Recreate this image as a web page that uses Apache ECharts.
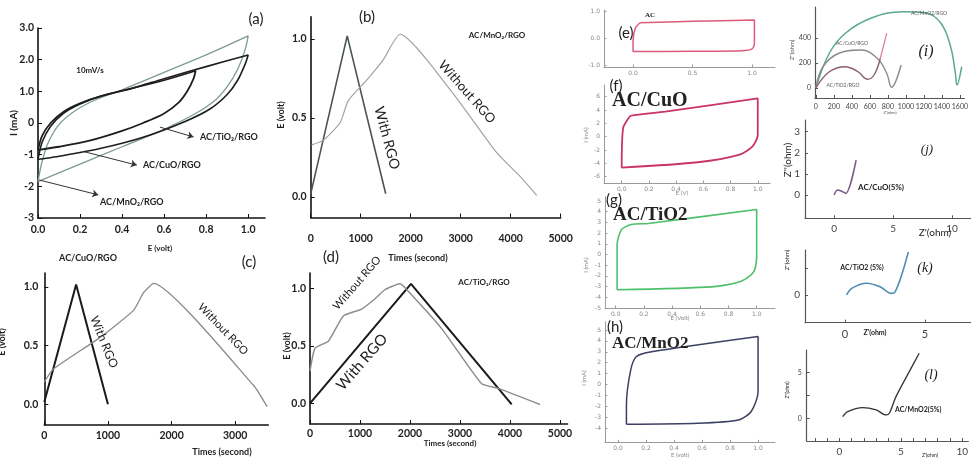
<!DOCTYPE html>
<html><head><meta charset="utf-8">
<script src="https://cdn.jsdelivr.net/npm/echarts@6/dist/echarts.min.js"></script>
<style>html,body{margin:0;padding:0;background:#fff}#c{width:971px;height:459px}</style>
</head><body><div id="c"></div>
<script>
// ---------- data ----------
// (a) CV loops, [E (volt), I (mA)]
const aMnO2 = [[0,-1.85],[0.02,-1.2],[0.05,-0.6],[0.1,-0.05],[0.18,0.4],[0.28,0.75],[0.4,1.05],[0.6,1.6],[0.8,2.15],[1.0,2.75],[0.985,2.3],[0.95,1.7],[0.9,1.15],[0.84,0.7],[0.75,0.3],[0.6,-0.2],[0.4,-0.75],[0.2,-1.3],[0,-1.85]];
const aTiO2 = [[0,-1.15],[0.02,-0.6],[0.06,-0.1],[0.12,0.3],[0.2,0.6],[0.3,0.85],[0.45,1.1],[0.6,1.4],[0.8,1.78],[1.0,2.15],[0.985,1.85],[0.95,1.35],[0.9,0.9],[0.82,0.45],[0.7,0.05],[0.5,-0.45],[0.3,-0.8],[0.1,-1.05],[0,-1.15]];
const aCuO = [[0,-0.85],[0.02,-0.4],[0.06,0.0],[0.12,0.35],[0.2,0.62],[0.3,0.85],[0.45,1.1],[0.6,1.35],[0.75,1.65],[0.74,1.4],[0.71,1.0],[0.67,0.65],[0.6,0.3],[0.5,0.0],[0.4,-0.25],[0.25,-0.55],[0.1,-0.75],[0,-0.85]];
// (b)-(d) charge/discharge, [time (s), E (volt)]
const bWith = [[0,0.02],[730,1.02],[1500,0.02]];
const bWithout = [[20,0.33],[253,0.36],[587,0.47],[753,0.61],[1120,0.74],[1453,0.87],[1787,1.03],[2787,0.68],[3720,0.28],[4187,0.13],[4520,0.01]];
const cWith = [[0,0.02],[500,1.02],[1000,0]];
const cWithout = [[0,0.19],[142,0.30],[877,0.57],[1402,0.80],[1559,0.95],[1717,1.03],[3291,0.16],[3501,-0.02]];
const dWith = [[0,0],[2020,1.04],[4034,-0.01]];
const dWithout = [[0,0.28],[100,0.48],[367,0.54],[667,0.76],[1033,0.82],[1300,0.91],[1500,0.99],[1800,1.04],[1933,0.99],[2633,0.65],[3433,0.17],[3767,0.13],[4600,-0.01]];
// (e)-(h) CV loops
const eAC = [[0.06,0.59],[0.5,0.64],[1.02,0.69],[1.02,-0.2],[1.0,-0.38],[0.92,-0.45],[0.5,-0.47],[0.0,-0.48],[0.0,-0.1],[0.02,0.4],[0.06,0.59]];
const fCuO = [[0,-4.65],[0.01,1.26],[0.05,2.76],[0.07,3.15],[0.32,3.75],[1.0,5.76],[1.0,0.25],[0.96,-1.5],[0.86,-2.74],[0.56,-3.84],[0,-4.65]];
const gTiO2 = [[0.01,-3.3],[0.01,0.9],[0.04,2.3],[0.11,2.8],[0.23,2.9],[1.0,4.2],[1.0,0.1],[0.98,-1.6],[0.89,-2.5],[0.70,-3.0],[0.01,-3.3]];
const hMnO2 = [[0.06,-3.65],[0.06,-1.9],[0.09,1.3],[0.13,2.55],[0.24,3.0],[1.0,4.4],[1.0,-0.66],[0.95,-2.5],[0.86,-3.26],[0.57,-3.56],[0.06,-3.65]];
// (i)-(l) Nyquist, [Z' , Z'']
const iMnO2 = [[0,0],[149,278],[327,438],[610,558],[965,610],[1213,602],[1390,518],[1497,330],[1550,118],[1567,24],[1620,170]];
const iCuO = [[0,0],[78,170],[255,278],[503,304],[681,238],[787,118],[840,6],[947,184]];
const iTiO2 = [[0,0],[149,130],[327,170],[468,130],[574,70],[646,104],[716,238]];
const iTiO2tail = [[716,238],[787,438]];
const jCuO = [[0,0],[0.3,0.24],[0.72,0.16],[1.0,0.08],[1.87,1.65]];
const kTiO2 = [[0.1,0],[0.42,0.25],[1.35,0.44],[2.19,0.31],[2.92,0.06],[3.13,0.12],[3.54,0.75],[3.96,1.62]];
const lMnO2 = [[0.27,0.17],[0.68,0.72],[1.9,1.15],[2.99,0.9],[3.8,0.36],[4.07,0.54],[4.61,2.35],[5.69,5.07],[6.5,7.07]];
// tick values
const aXTicks = [0,0.2,0.4,0.6,0.8,1.0], aYTicks = [-3,-2,-1,0,1,2,3];
const timeTicks5 = [0,1000,2000,3000,4000,5000], cXTicks = [0,1000,2000,3000], gcdYTicks = [0,0.5,1.0];
const eXTicks = [0,0.5,1.0], eYTicks = [-1,0,1];
const cvXTicks = [0,0.2,0.4,0.6,0.8,1.0];
const fYTicks = [-6,-4,-2,0,2,4,6], gYTicks = [-5,-4,-3,-2,-1,0,1,2,3,4,5], hYTicks = [-4,-3,-2,-1,0,1,2,3,4,5];
const iXTicks = [0,200,400,600,800,1000,1200,1400,1600], iYTicks = [0,200,400];
const jXTicks = [0,5,10], jYTicks = [0,1,2,3];
const kXTicks = [0,5], kYLabels = [0], kYTicks = [0,1];
const lXLabels = [0,5,10], lXTicks = [-2,-1,0,1,2,3,4,5,6,7,8,9,10], lYLabels = [0,5], lYTicks = [0,2.5,5];

// ---------- layout ----------
const grids = [
  {left:38, top:28, width:227, height:190},        // a
  {left:310.7, top:16.9, width:250, height:200.6}, // b
  {left:44.3, top:273, width:224, height:152},     // c
  {left:310, top:273, width:257.5, height:151},    // d
  {left:604, top:10, width:171, height:57},        // e
  {left:604, top:85, width:166, height:98},        // f
  {left:605, top:196.7, width:170, height:111.3},  // g
  {left:605, top:321.7, width:170, height:120.6},  // h
  {left:815, top:7, width:156, height:91},         // i
  {left:805, top:120, width:166, height:98.3},     // j
  {left:805, top:250, width:166, height:72.7},     // k
  {left:806.7, top:350, width:164.3, height:91}    // l
];
const BIG = {axis:'#111', w:1.6, fs:10.5, fw:'bold', lc:'#222', ff:'Lato', tl:4};
const SM = {axis:'#9a9a9a', w:1, fs:6, fw:'normal', lc:'#888', ff:'DejaVu Sans', tl:2.5};
const NY = {axis:'#555', w:1.2, fs:8, fw:'normal', lc:'#444', ff:'Lato', tl:3};

function ax(gi, min, max, labels, ticks, fmt, s, margin) {
  return {
    type:'value', gridIndex:gi, min:min, max:max, splitLine:{show:false},
    axisLine:{onZero:false, lineStyle:{color:s.axis, width:s.w}},
    axisTick:{show:true, inside:true, length:s.tl, customValues:ticks, lineStyle:{color:s.axis, width:1}},
    axisLabel:{customValues:labels, formatter:fmt, fontSize:s.fs, fontWeight:s.fw, color:s.lc, fontFamily:s.ff, margin:margin}
  };
}
const f1 = v => v.toFixed(1);
const fa = v => v > 0 ? v.toFixed(1) : String(v);
const fi = v => String(v);

const xAxis = [
  ax(0,0,1.08,aXTicks,aXTicks,f1,BIG,6),
  ax(1,0,5000,timeTicks5,timeTicks5,fi,BIG,16),
  ax(2,0,3520,cXTicks,cXTicks,fi,BIG,5),
  ax(3,0,5150,timeTicks5,timeTicks5,fi,BIG,4),
  ax(4,-0.244,1.193,eXTicks,eXTicks,f1,SM,3),
  ax(5,-0.13,1.09,cvXTicks,cvXTicks,f1,SM,3),
  ax(6,-0.076,1.13,cvXTicks,cvXTicks,f1,SM,3),
  ax(7,-0.093,1.121,cvXTicks,cvXTicks,f1,SM,3),
  ax(8,-10,1650,iXTicks,iXTicks,fi,NY,5),
  ax(9,-2.46,11.6,jXTicks,jXTicks,fi,NY,5),
  ax(10,-2.5,7.875,kXTicks,kXTicks,fi,NY,6),
  ax(11,-2.66,10.5,lXLabels,lXTicks,fi,NY,6)
];
const yAxis = [
  ax(0,-3,3,aYTicks,aYTicks,fa,BIG,4),
  ax(1,-0.13,1.14,gcdYTicks,gcdYTicks,f1,BIG,4),
  ax(2,-0.176,1.118,gcdYTicks,gcdYTicks,f1,BIG,6),
  ax(3,-0.18,1.134,gcdYTicks,gcdYTicks,f1,BIG,4),
  ax(4,-1.05,1.06,eYTicks,eYTicks,f1,SM,4),
  ax(5,-6.95,7.75,fYTicks,fYTicks,fi,SM,4),
  ax(6,-5,5.4,gYTicks,gYTicks,fi,SM,4),
  ax(7,-5.3,5.76,hYTicks,hYTicks,fi,SM,4),
  ax(8,-80,648,iYTicks,iYTicks,fi,NY,4),
  ax(9,-1.1,3.55,jYTicks,jYTicks,fi,NY,5),
  ax(10,-1.04,1.69,kYLabels,kYTicks,fi,NY,5),
  ax(11,-2.47,7.42,lYLabels,lYTicks,fi,NY,5)
];
xAxis[8].axisLabel.fontSize = 7; yAxis[8].axisLabel.fontSize = 7;
yAxis[11].axisLabel.fontSize = 7; xAxis[11].axisLabel.fontSize = 10;
xAxis[9].axisLabel.fontSize = 10; yAxis[9].axisLabel.fontSize = 10;
xAxis[10].axisLabel.fontSize = 11; yAxis[10].axisLabel.fontSize = 10;

function ln(gi, data, color, width, smooth) {
  return {type:'line', xAxisIndex:gi, yAxisIndex:gi, data:data, showSymbol:false, symbol:'none',
    smooth:smooth, lineStyle:{color:color, width:width}, silent:true, z:3};
}
function arrow(gi, from, to) {
  return {type:'line', xAxisIndex:gi, yAxisIndex:gi, data:[], silent:true,
    markLine:{silent:true, symbol:['none','arrow'], symbolSize:6, label:{show:false},
      lineStyle:{color:'#333', width:1, type:'solid'}, data:[[{coord:from},{coord:to}]]}};
}

const series = [
  ln(0, aMnO2, '#7f9c8c', 1.3, 0.3),
  ln(0, aTiO2, '#1e1e1e', 1.6, 0.3),
  ln(0, aCuO, '#1e1e1e', 1.8, 0.3),
  arrow(0, [0.58,-0.13], [0.74,-0.44]),
  arrow(0, [0.216,-0.9], [0.47,-1.33]),
  arrow(0, [0.006,-1.8], [0.287,-2.27]),
  ln(1, bWith, '#4a5454', 1.6, false),
  ln(1, bWithout, '#a3a3a3', 1.2, 0.2),
  ln(2, cWith, '#1a1a1a', 2, false),
  ln(2, cWithout, '#8a8a8a', 1.3, 0.15),
  ln(3, dWith, '#1a1a1a', 2, false),
  ln(3, dWithout, '#8e8e8e', 1.5, 0.15),
  ln(4, eAC, '#de5a7c', 1.5, 0.25),
  ln(5, fCuO, '#c93462', 1.8, 0.25),
  ln(6, gTiO2, '#4cc06a', 1.6, 0.25),
  ln(7, hMnO2, '#3c4062', 1.5, 0.25),
  ln(8, iMnO2, '#5aa896', 1.5, 0.4),
  ln(8, iCuO, '#8b8b8b', 1.4, 0.4),
  ln(8, iTiO2, '#8a5e74', 1.4, 0.4),
  ln(8, iTiO2tail, '#e07a9a', 1.2, false),
  ln(9, jCuO, '#7a5e8a', 1.6, 0.3),
  ln(10, kTiO2, '#4d8cb0', 1.6, 0.35),
  ln(11, lMnO2, '#333', 1.3, 0.3)
];

function T(x, y, text, font, opts) {
  opts = opts || {};
  return {type:'text', x:x, y:y, rotation:(opts.rot||0)*Math.PI/180, z:10,
    style:{text:text, font:font, fill:opts.fill||'#222', align:opts.align||'center', verticalAlign:'middle'}};
}
const graphic = [
  // (a)
  T(256,19,'(a)','15px Lato'),
  T(90,70,'10mV/s','bold 8px Lato'),
  T(200,137,'AC/TiO\u2082/RGO','bold 9px Lato',{align:'left'}),
  T(143,165,'AC/CuO/RGO','bold 9px Lato',{align:'left'}),
  T(100,202,'AC/MnO\u2082/RGO','bold 9px Lato',{align:'left'}),
  T(14,123,'I (mA)','bold 10px Lato',{rot:90}),
  T(160,248,'E (volt)','bold 8px Lato'),
  // (b)
  T(367,17,'(b)','15px Lato'),
  T(497,35,'AC/MnO\u2082/RGO','bold 8px Lato'),
  T(281,115,'E (volt)','bold 9px Lato',{rot:90}),
  T(387,138,'With RGO','14px Lato',{rot:-75}),
  T(467,92,'Without RGO','13px Lato',{rot:-48.6}),
  T(418,258,'Times (second)','bold 9px Lato'),
  // (c)
  T(88,258,'AC/CuO/RGO','bold 9px Lato'),
  T(249,262,'(c)','15px Lato'),
  T(2,342,'E (volt)','bold 9px Lato',{rot:90}),
  T(104,342,'With RGO','12px Lato',{rot:-68}),
  T(223,329,'Without RGO','11px Lato',{rot:-46}),
  T(222,452,'Times (second)','bold 9px Lato'),
  // (d)
  T(331,257,'(d)','15px Lato'),
  T(484,282,'AC/TiO\u2082/RGO','bold 8px Lato'),
  T(287,346,'E (volt)','bold 9px Lato',{rot:90}),
  T(357,283,'Without RGO','11px Lato',{rot:49}),
  T(362,362,'With RGO','15px Lato',{rot:49}),
  T(450,443,'Times (second)','bold 8px Lato'),
  // (e)
  T(626,33,'(e)','15px Lato'),
  T(650,15,'AC','bold 7px "Liberation Serif"'),
  // (f)
  T(616,86,'(f)','15px Lato'),
  T(612,101,'AC/CuO','bold 20px "Liberation Serif"',{align:'left'}),
  T(586,135,'I (mA)','6px Lato',{rot:90,fill:'#888'}),
  T(682,193,'E (V)','6px Lato',{fill:'#888'}),
  // (g)
  T(614,200,'(g)','15px Lato'),
  T(613,215,'AC/TiO2','bold 19px "Liberation Serif"',{align:'left'}),
  T(586,265,'I (mA)','6px Lato',{rot:90,fill:'#888'}),
  T(680,318,'E (Volt)','6px Lato',{fill:'#888'}),
  // (h)
  T(615,327,'(h)','15px Lato'),
  T(612,344,'AC/MnO2','bold 17px "Liberation Serif"',{align:'left'}),
  T(584,378,'I (mA)','6px Lato',{rot:90,fill:'#888'}),
  T(680,455,'E (volt)','6px Lato',{fill:'#888'}),
  // (i)
  T(929,13,'AC/MnO2/RGO','5px Lato',{fill:'#555'}),
  T(852,43,'AC/CuO/RGO','5px Lato',{fill:'#555'}),
  T(843,85,'AC/TiO2/RGO','5px Lato',{fill:'#555'}),
  T(926,52,'(i)','italic 16px "Liberation Serif"'),
  T(792,50,"Z''(ohm)",'6px Lato',{rot:90,fill:'#555'}),
  T(890,113,"Z'(ohm)",'4px Lato',{fill:'#555'}),
  // (j)
  T(858,187,'AC/CuO(5%)','bold 8px Lato',{align:'left'}),
  T(927,150,'(j)','italic 13px "Liberation Serif"'),
  T(788,160,"Z''(ohm)",'10px Lato',{rot:90}),
  T(935,233,"Z'(ohm)",'10px Lato'),
  // (k)
  T(862,268,'AC/TiO2 (5%)','bold 7px Lato'),
  T(925,268,'(k)','italic 14px "Liberation Serif"'),
  T(787,260,"Z''(ohm)",'6px Lato',{rot:90}),
  T(875,333,"Z'(ohm)",'bold 7px Lato'),
  // (l)
  T(895,410,'AC/MnO2(5%)','bold 7px Lato',{align:'left'}),
  T(931,375,'(l)','italic 14px "Liberation Serif"'),
  T(787,390,"Z''(ohm)",'5px Lato',{rot:90}),
  T(930,455,"Z'(ohm)",'5px Lato')
];

const chart = echarts.init(document.getElementById('c'), null, {renderer:'canvas'});
chart.setOption({animation:false, backgroundColor:'#fff', grid:grids, xAxis:xAxis, yAxis:yAxis, series:series, graphic:graphic});
</script></body></html>
